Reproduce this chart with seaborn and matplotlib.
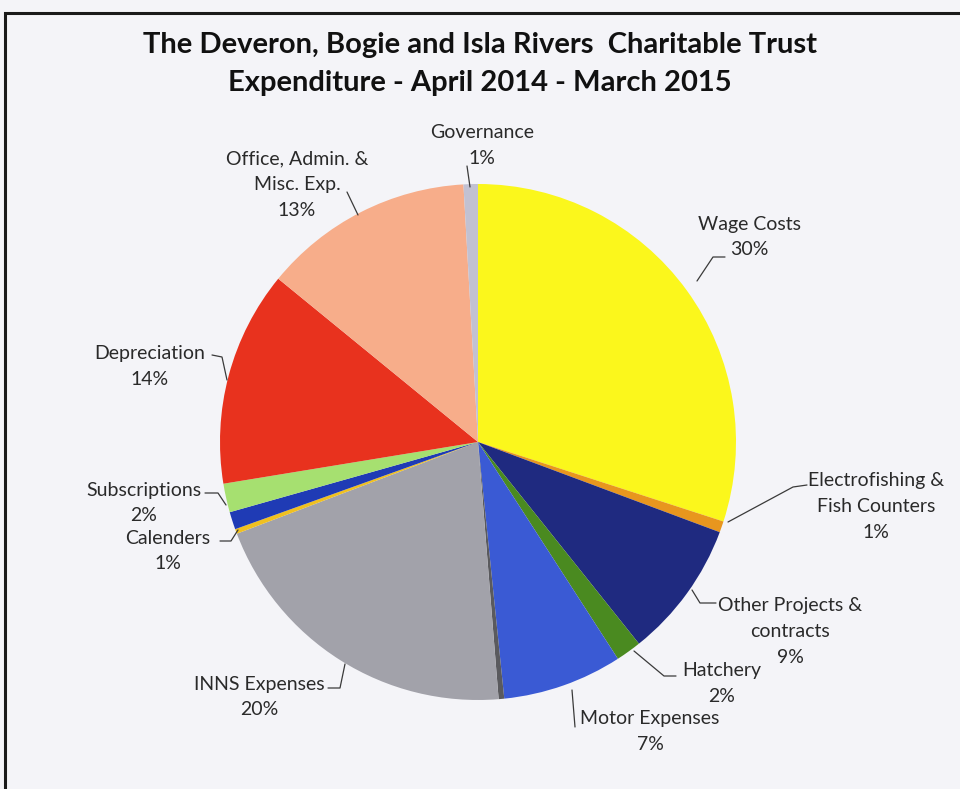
import matplotlib
matplotlib.use("Agg")
import matplotlib.pyplot as plt
import seaborn as sns
from matplotlib.patches import Rectangle

sns.set_theme(style="white")
plt.rcParams['font.family'] = ['Lato', 'DejaVu Sans']

# Data (clockwise from 12 o'clock)
categories = ["Wage Costs", "Electrofishing & Fish Counters", "Other Projects & contracts",
              "Hatchery", "Motor Expenses", "(unlabelled dark)", "INNS Expenses",
              "(unlabelled thin)", "Calenders", "Subscriptions", "Depreciation",
              "Office, Admin. & Misc. Exp.", "Governance"]
values = [30.0, 0.7, 8.6, 1.6, 7.5, 0.35, 20.5, 0.3, 1.1, 1.8, 13.5, 13.2, 0.9]
label_texts = ["Wage Costs\n30%", "Electrofishing &\nFish Counters\n1%",
               "Other Projects &\ncontracts\n9%", "Hatchery\n2%",
               "Motor Expenses\n7%", "", "INNS Expenses\n20%", "", "Calenders\n1%",
               "Subscriptions\n2%", "Depreciation\n14%",
               "Office, Admin. &\nMisc. Exp.\n13%", "Governance\n1%"]
colors = ["#fbf71c", "#e8961e", "#1f2a80", "#4a8a20", "#3a5ad4", "#5a5a5e",
          "#a2a2aa", "#f0c020", "#1f3bb5", "#a6e070", "#e8321e", "#f7ad8a", "#c2c1d2"]

W, H = 960, 789
fig = plt.figure(figsize=(W / 100, H / 100), dpi=100)
bg = "#f4f4f8"
fig.patch.set_facecolor(bg)

# Frame
fig.add_artist(Rectangle((5 / W, -0.01), 1.02, 1 - 13 / H + 0.01, transform=fig.transFigure,
                         fill=False, edgecolor="#1a1a1a", linewidth=2.2))

cx, cy, R = 478, 442, 258
ax = fig.add_axes([(cx - R) / W, 1 - (cy + R) / H, 2 * R / W, 2 * R / H])
ax.set_facecolor("none")
ax.pie(values, colors=colors, startangle=90, counterclock=False, radius=1.0,
       wedgeprops=dict(linewidth=0))
ax.set_xlim(-1, 1)
ax.set_ylim(-1, 1)
ax.set_aspect("equal")
ax.axis("off")

def d(px, py):
    return ((px - cx) / R, (cy - py) / R)

fs = 14
tc = "#2a2a2a"
# label placement (pixel centre x, centre y) and leader line points
layout = {
    "Governance\n1%": ((482, 145.5), [(467, 166), (470, 187)]),
    "Office, Admin. &\nMisc. Exp.\n13%": ((297, 184.5), [(347, 192), (358, 215)]),
    "Wage Costs\n30%": ((749, 237), [(725, 257), (713, 257), (697, 281)]),
    "Electrofishing &\nFish Counters\n1%": ((876, 506.5), [(807, 485), (793, 487), (728, 522)]),
    "Other Projects &\ncontracts\n9%": ((790, 631.5), [(716, 603), (700, 603), (692, 590)]),
    "Hatchery\n2%": ((722, 683.5), [(676, 676), (664, 676), (634, 651)]),
    "Motor Expenses\n7%": ((650, 731.5), [(575, 727), (572, 690)]),
    "INNS Expenses\n20%": ((259, 697), [(328, 688), (340, 688), (345, 664)]),
    "Calenders\n1%": ((168, 551), [(220, 541), (231, 541), (238, 530)]),
    "Subscriptions\n2%": ((144, 503), [(205, 493), (218, 493), (226, 505)]),
    "Depreciation\n14%": ((150, 366.5), [(212, 355), (222, 357), (227, 380)]),
}
for txt in label_texts:
    if not txt:
        continue
    (px, py), pts = layout[txt]
    x, y = d(px, py)
    ax.text(x, y, txt, ha="center", va="center", fontsize=fs, color=tc,
            linespacing=1.62, clip_on=False)
    xs = [d(*p)[0] for p in pts]
    ys = [d(*p)[1] for p in pts]
    ax.plot(xs, ys, color="#3a3a3a", linewidth=0.9, clip_on=False)

fig.text(0.5, 1 - 45 / H, "The Deveron, Bogie and Isla Rivers  Charitable Trust",
         ha="center", va="center", fontsize=21, fontweight="bold", color="#111111")
fig.text(0.5, 1 - 83 / H, "Expenditure - April 2014 - March 2015",
         ha="center", va="center", fontsize=21, fontweight="bold", color="#111111")

fig.savefig("out.png", dpi=100, facecolor=bg)
